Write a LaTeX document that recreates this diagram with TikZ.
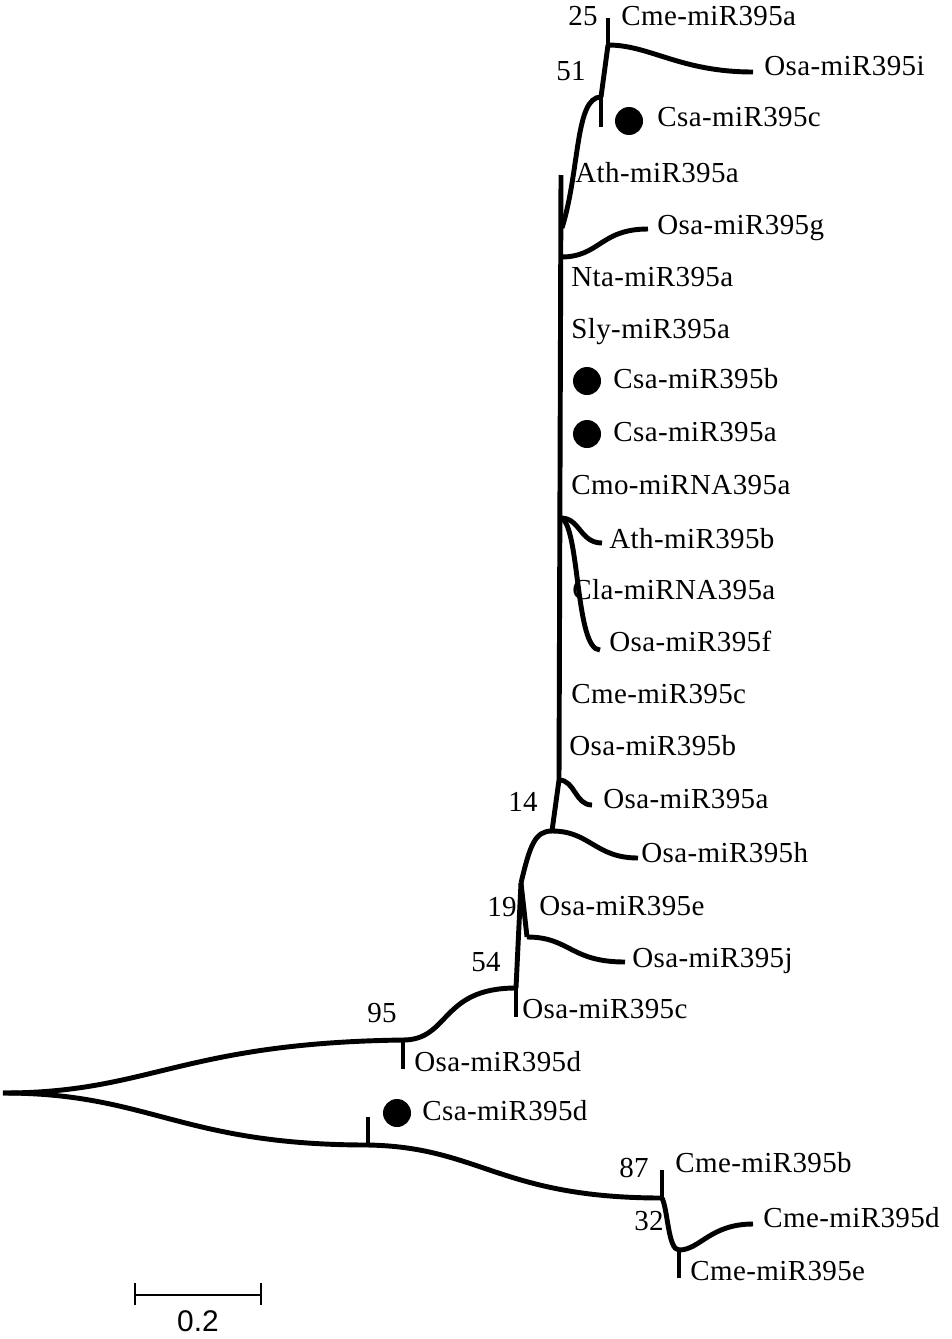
\documentclass[tikz,border=0pt]{standalone}
\usepackage{fontspec}
\setmainfont{Liberation Serif}[LetterSpace=1.4]
\setsansfont{Liberation Sans}
\usetikzlibrary{positioning}

\tikzset{
  branch/.style={line width=2.8pt},
  taxon/.style={anchor=west, inner sep=0pt, text height=0.66em, text depth=0pt, font=\fontsize{16.5}{18}\selectfont},
  boot/.style={inner sep=0pt, text height=0.66em, text depth=0pt, font=\fontsize{16.5}{18}\selectfont},
  marker/.style={circle, fill=black, minimum size=0.56cm, inner sep=0pt}
}

\begin{document}
\begin{tikzpicture}[x=0.02cm, y=-0.02cm]
    \useasboundingbox (0,0) rectangle (951,1339);

    % Inner nodes of the tree
    \coordinate (root) at (3,1093);
    \coordinate (n95) at (403,1040);
    \coordinate (n54) at (516,988);
    \coordinate (n19) at (521,883);
    \coordinate (n19b) at (527,937);
    \coordinate (n14) at (552,831);
    \coordinate (na) at (559,780);
    \coordinate (top) at (561,175);
    \coordinate (ncmo) at (561,518);
    \coordinate (ng) at (561,257);
    \coordinate (n51root) at (562,228);
    \coordinate (n51) at (601,97);
    \coordinate (n25) at (608,45);
    \coordinate (ncsad) at (368,1145);
    \coordinate (n87) at (662,1198);
    \coordinate (n32) at (679,1250);

    % Branch tips
    \coordinate (tosad) at (403,1069);
    \coordinate (tosac) at (516,1017);
    \coordinate (tosaj) at (625,962);
    \coordinate (tosah) at (638,858);
    \coordinate (tosaa) at (592,805);
    \coordinate (tathb) at (602,543);
    \coordinate (tosaf) at (600,650);
    \coordinate (tosag) at (648,229);
    \coordinate (tcsac) at (601,127);
    \coordinate (tcmea) at (608,18);
    \coordinate (tosai) at (753,72);
    \coordinate (tcsad) at (368,1117);
    \coordinate (tcmeb) at (662,1170);
    \coordinate (tcmee) at (679,1278);
    \coordinate (tcmed) at (753,1224);

    % Upper clade
    \draw[branch] (root) .. controls (150,1093) and (180,1043) .. (n95);
    \draw[branch] (n95) -- (tosad);
    \draw[branch] (n95) .. controls (450,1040) and (440,988) .. (n54);
    \draw[branch] (n54) -- (tosac);
    \draw[branch] (n54) -- (n19);
    \draw[branch] (n19) -- (n19b);
    \draw[branch] (n19b) .. controls (570,937) and (570,962) .. (tosaj);
    \draw[branch] (n19) .. controls (530,845) and (535,831) .. (n14);
    \draw[branch] (n14) .. controls (590,831) and (595,858) .. (tosah);
    \draw[branch] (n14) -- (na) -- (top);
    \draw[branch] (na) .. controls (575,780) and (575,805) .. (tosaa);
    \draw[branch] (ncmo) .. controls (580,518) and (580,543) .. (tathb);
    \draw[branch] (ncmo) .. controls (580,525) and (575,650) .. (tosaf);
    \draw[branch] (ng) .. controls (600,257) and (600,229) .. (tosag);
    \draw[branch] (n51root) .. controls (580,170) and (575,97) .. (n51);
    \draw[branch] (n51) -- (tcsac);
    \draw[branch] (n51) -- (n25);
    \draw[branch] (n25) -- (tcmea);
    \draw[branch] (n25) .. controls (650,45) and (680,72) .. (tosai);

    % Lower clade
    \draw[branch] (root) .. controls (150,1093) and (180,1145) .. (ncsad);
    \draw[branch] (ncsad) -- (tcsad);
    \draw[branch] (ncsad) .. controls (480,1147) and (500,1198) .. (n87);
    \draw[branch] (n87) -- (tcmeb);
    \draw[branch] (n87) .. controls (668,1210) and (668,1250) .. (n32);
    \draw[branch] (n32) -- (tcmee);
    \draw[branch] (n32) .. controls (700,1250) and (710,1224) .. (tcmed);

    % Bootstrap values
    \node[boot] (b25) at (583,20) {25};
    \node[boot] (b51) at (571,75) {51};
    \node[boot] (b14) at (523,806) {14};
    \node[boot] (b19) at (502,911) {19};
    \node[boot] (b54) at (486,966) {54};
    \node[boot] (b95) at (382,1017) {95};
    \node[boot] (b87) at (634,1172) {87};
    \node[boot] (b32) at (649,1225) {32};

    % Cucumber markers
    \node[marker] (mcsac) at (629,121) {};
    \node[marker] (mcsab) at (587,381) {};
    \node[marker] (mcsaa) at (587,434) {};
    \node[marker] (mcsad) at (397,1113) {};

    % Taxa
    \node[taxon] (cmea) at (621,20) {Cme-miR395a};
    \node[taxon] (osai) at (764,70) {Osa-miR395i};
    \node[taxon] (csac) at (657,121) {Csa-miR395c};
    \node[taxon] (atha) at (575,177) {Ath-miR395a};
    \node[taxon] (osag) at (657,229) {Osa-miR395g};
    \node[taxon] (ntaa) at (571,281) {Nta-miR395a};
    \node[taxon] (slya) at (571,333) {Sly-miR395a};
    \node[taxon] (csab) at (613,383) {Csa-miR395b};
    \node[taxon] (csaa) at (613,436) {Csa-miR395a};
    \node[taxon] (cmoa) at (571,489) {Cmo-miRNA395a};
    \node[taxon] (athb) at (609,543) {Ath-miR395b};
    \node[taxon] (claa) at (572,594) {Cla-miRNA395a};
    \node[taxon] (osaf) at (609,646) {Osa-miR395f};
    \node[taxon] (cmec) at (571,698) {Cme-miR395c};
    \node[taxon] (osab) at (569,750) {Osa-miR395b};
    \node[taxon] (osaa) at (603,803) {Osa-miR395a};
    \node[taxon] (osah) at (641,857) {Osa-miR395h};
    \node[taxon] (osae) at (539,910) {Osa-miR395e};
    \node[taxon] (osaj) at (632,962) {Osa-miR395j};
    \node[taxon] (osac) at (522,1013) {Osa-miR395c};
    \node[taxon] (osad) at (414,1066) {Osa-miR395d};
    \node[taxon] (csad) at (422,1115) {Csa-miR395d};
    \node[taxon] (cmeb) at (675,1167) {Cme-miR395b};
    \node[taxon] (cmed) at (763,1222) {Cme-miR395d};
    \node[taxon] (cmee) at (690,1275) {Cme-miR395e};

    % Scale bar
    \coordinate (sbl) at (135,1295);
    \coordinate (sbr) at (261,1295);
    \draw[line width=1.3pt] (sbl) -- (sbr);
    \draw[line width=1.3pt] ([yshift=0.24cm]sbl) -- ([yshift=-0.2cm]sbl);
    \draw[line width=1.3pt] ([yshift=0.24cm]sbr) -- ([yshift=-0.2cm]sbr);
    \node[font=\sffamily\fontsize{17}{19}\selectfont, inner sep=0pt] (sblab) at (198,1321) {0.2};
\end{tikzpicture}
\end{document}
